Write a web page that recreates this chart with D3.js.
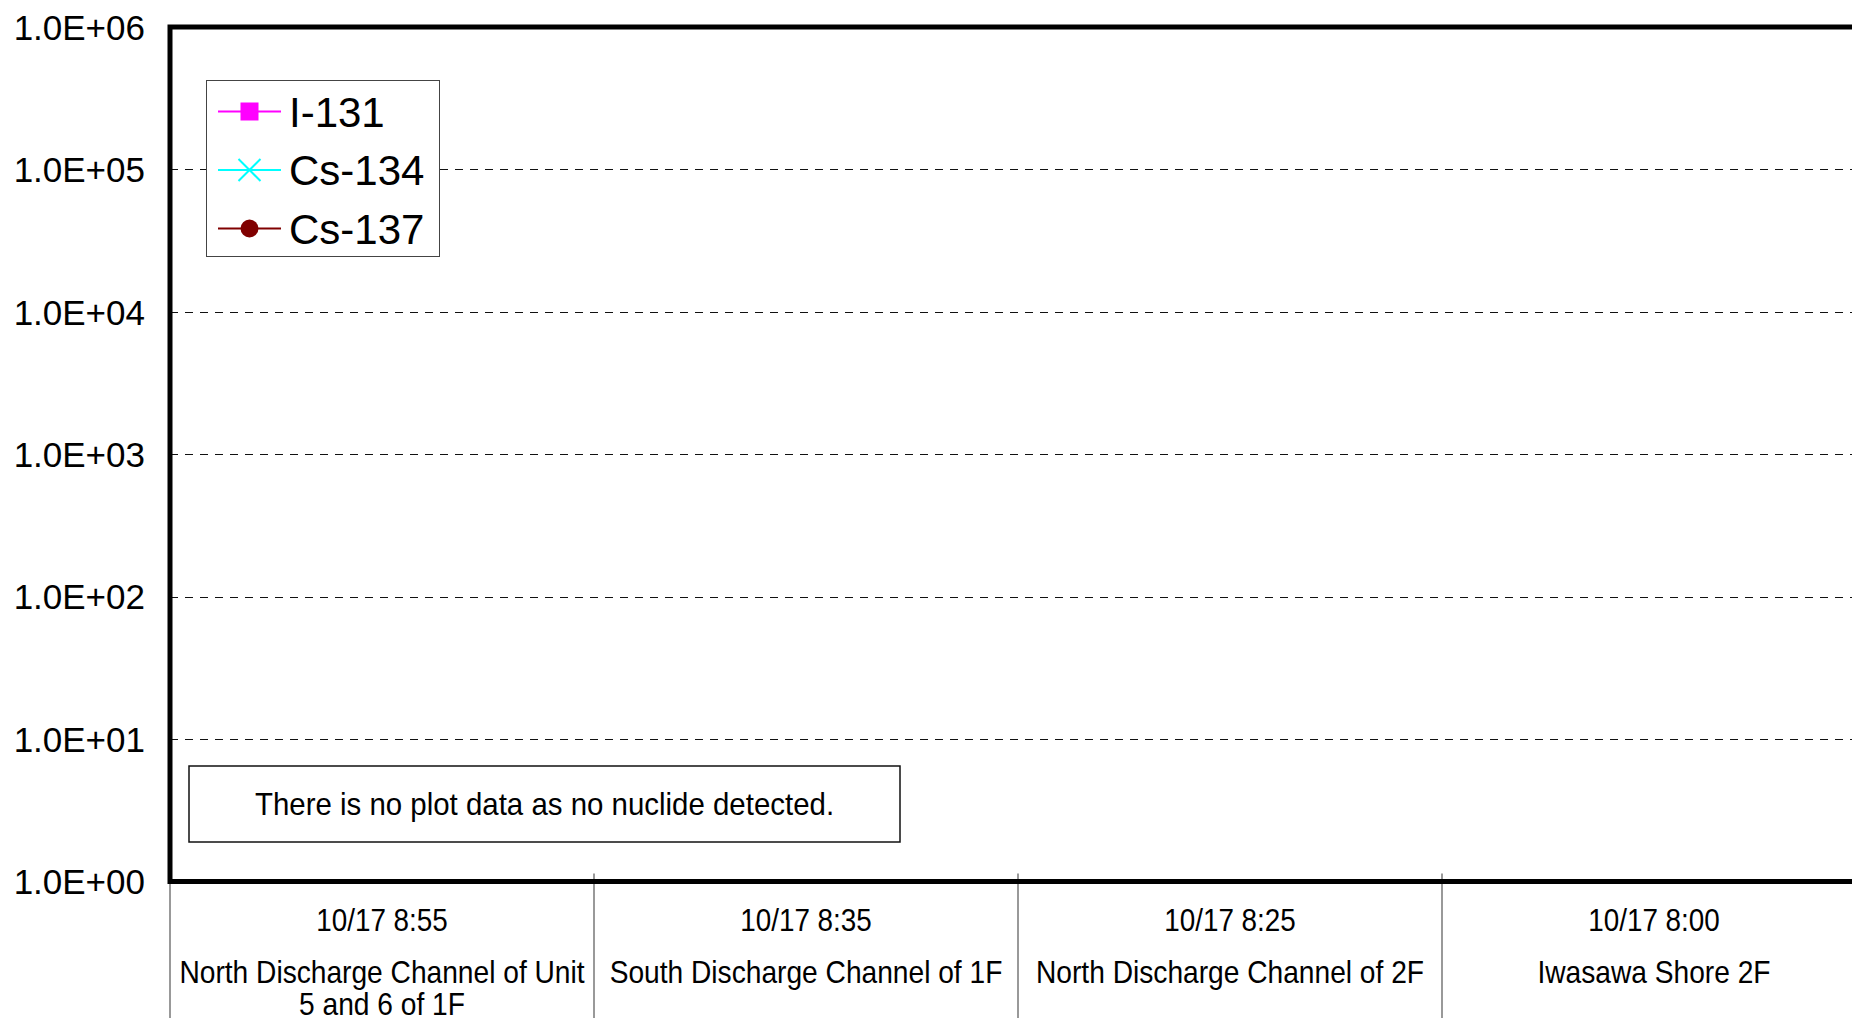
<!DOCTYPE html>
<html>
<head>
<meta charset="utf-8">
<script src="https://cdn.jsdelivr.net/npm/d3@7"></script>
<style>
	html, body { margin: 0; padding: 0; background: #fff; overflow: hidden; }
	svg { display: block; font-family: "Liberation Sans", Arial, sans-serif; }
</style>
</head>
<body>
<div id="chart"></div>
<script>
	"use strict";

	// sampling points (x categories)
	var sampleDates = ["10/17 8:55", "10/17 8:35", "10/17 8:25", "10/17 8:00"];
	var sampleSites = [
		"North Discharge Channel of Unit 5 and 6 of 1F",
		"South Discharge Channel of 1F",
		"North Discharge Channel of 2F",
		"Iwasawa Shore 2F"
	];

	// nuclides - nothing detected, so every value is empty
	var seriesNames = ["I-131", "Cs-134", "Cs-137"];
	var i131Values = [null, null, null, null];
	var cs134Values = [null, null, null, null];
	var cs137Values = [null, null, null, null];

	// y axis (log) ticks
	var yTicks = [1, 10, 100, 1000, 10000, 100000, 1000000];
	var yTickLabels = ["1.0E+00", "1.0E+01", "1.0E+02", "1.0E+03", "1.0E+04", "1.0E+05", "1.0E+06"];

	var noteText = "There is no plot data as no nuclide detected.";

	var width = 1852,
		height = 1018,
		plot = {left: 170, top: 27, bottom: 881.5, bandWidth: 424},
		seriesColors = ["#ff00ff", "#00ffff", "#800000"],
		seriesMarkers = ["square", "cross", "circle"];

	var series = seriesNames.map(function(name, i) {
		return {name: name, values: [i131Values, cs134Values, cs137Values][i],
			color: seriesColors[i], marker: seriesMarkers[i]};
	});

	var svg = d3.select("#chart").append("svg")
		.attr("width", width)
		.attr("height", height);

	var x = d3.scaleBand()
		.domain(sampleDates.map(function(d, i) { return i; }))
		.range([plot.left, plot.left + plot.bandWidth * sampleDates.length])
		.padding(0);

	var y = d3.scaleLog()
		.domain([1, 1e6])
		.range([plot.bottom, plot.top]);

	// dashed grid lines (snapped to pixel for a crisp 1px line)
	function crisp(v) { return Math.round(v) + 0.5; }
	svg.append("g").selectAll("line")
		.data(yTicks.slice(1, -1))
		.enter().append("line")
		.attr("x1", x.range()[0])
		.attr("x2", x.range()[1])
		.attr("y1", function(d) { return crisp(y(d)); })
		.attr("y2", function(d) { return crisp(y(d)); })
		.attr("stroke", "#111")
		.attr("stroke-width", 1)
		.attr("stroke-dasharray", "8,7");

	// y axis labels
	var yAxis = d3.axisLeft(y)
		.tickValues(yTicks)
		.tickFormat(function(d, i) { return yTickLabels[i]; })
		.tickSize(0)
		.tickPadding(0);

	var yg = svg.append("g")
		.attr("transform", "translate(145,0)")
		.call(yAxis);
	yg.select(".domain").remove();
	yg.selectAll("text")
		.attr("font-family", "'Liberation Sans', Arial, sans-serif")
		.attr("font-size", 35)
		.attr("fill", "#000")
		.attr("dy", "0.35em");

	// category dividers below the plot
	var bounds = x.domain().map(function(d) { return x(d); }).concat([x.range()[1]]);
	svg.append("g").selectAll("line")
		.data(bounds)
		.enter().append("line")
		.attr("x1", function(d) { return d; })
		.attr("x2", function(d) { return d; })
		.attr("y1", plot.bottom - 8)
		.attr("y2", height)
		.attr("stroke", "#555")
		.attr("stroke-width", 1.2);

	// x labels: date line, then wrapped site name
	var xl = svg.append("g").selectAll("g")
		.data(x.domain())
		.enter().append("g")
		.attr("transform", function(d) { return "translate(" + (x(d) + x.bandwidth() / 2) + ",0)"; });

	xl.append("text")
		.attr("transform", "translate(0,931) scale(0.87,1)")
		.attr("text-anchor", "middle")
		.attr("font-size", 32)
		.text(function(d) { return sampleDates[d]; });

	xl.append("text")
		.attr("transform", "translate(0,983) scale(0.88,1)")
		.attr("text-anchor", "middle")
		.attr("font-size", 32)
		.each(function(d) {
			wrap(d3.select(this), sampleSites[d], (x.bandwidth() - 8) / 0.88, 32);
		});

	function wrap(text, str, maxWidth, lineHeight) {
		var words = str.split(" "),
			line = [],
			lineNo = 0,
			tspan = text.append("tspan").attr("x", 0).attr("y", 0);
		words.forEach(function(w) {
			line.push(w);
			tspan.text(line.join(" "));
			if (tspan.node().getComputedTextLength() > maxWidth && line.length > 1) {
				line.pop();
				tspan.text(line.join(" "));
				line = [w];
				lineNo++;
				tspan = text.append("tspan").attr("x", 0).attr("y", lineNo * lineHeight).text(w);
			}
		});
	}

	// series lines (empty - no detections)
	var line = d3.line()
		.defined(function(d) { return d != null; })
		.x(function(d, i) { return x(i) + x.bandwidth() / 2; })
		.y(function(d) { return y(d); });

	svg.append("g").selectAll("path")
		.data(series)
		.enter().append("path")
		.attr("fill", "none")
		.attr("stroke", function(d) { return d.color; })
		.attr("stroke-width", 2)
		.attr("d", function(d) { return line(d.values); });

	// plot frame
	svg.append("rect")
		.attr("x", plot.left)
		.attr("y", plot.top)
		.attr("width", x.range()[1] - plot.left)
		.attr("height", plot.bottom - plot.top)
		.attr("fill", "none")
		.attr("stroke", "#000")
		.attr("stroke-width", 5);

	// legend
	var legend = svg.append("g");
	legend.append("rect")
		.attr("x", 206.5)
		.attr("y", 80.5)
		.attr("width", 233)
		.attr("height", 176)
		.attr("fill", "#fff")
		.attr("stroke", "#444")
		.attr("stroke-width", 1);

	var items = legend.selectAll("g.item")
		.data(series)
		.enter().append("g")
		.attr("class", "item")
		.attr("transform", function(d, i) { return "translate(0," + (111.5 + i * 58.5) + ")"; });

	items.append("line")
		.attr("x1", 218).attr("x2", 281)
		.attr("stroke", function(d) { return d.color; })
		.attr("stroke-width", 2);

	items.each(function(d) {
		var g = d3.select(this);
		if (d.marker === "square") {
			g.append("rect").attr("x", 240.5).attr("y", -9).attr("width", 18).attr("height", 18)
				.attr("fill", d.color);
		} else if (d.marker === "cross") {
			g.append("path").attr("d", "M238.5,-11L260.5,11M238.5,11L260.5,-11")
				.attr("stroke", d.color).attr("stroke-width", 2);
		} else {
			g.append("circle").attr("cx", 249.5).attr("cy", 0).attr("r", 9)
				.attr("fill", d.color);
		}
	});

	items.append("text")
		.attr("x", 289)
		.attr("dy", "0.36em")
		.attr("font-size", 42)
		.text(function(d) { return d.name; });

	// no-data note
	var note = svg.append("g");
	note.append("rect")
		.attr("x", 189)
		.attr("y", 766)
		.attr("width", 711)
		.attr("height", 76)
		.attr("fill", "#fff")
		.attr("stroke", "#111")
		.attr("stroke-width", 1.5);
	note.append("text")
		.attr("transform", "translate(544.5,815) scale(0.92,1)")
		.attr("text-anchor", "middle")
		.attr("font-size", 32)
		.text(noteText);
</script>
</body>
</html>
